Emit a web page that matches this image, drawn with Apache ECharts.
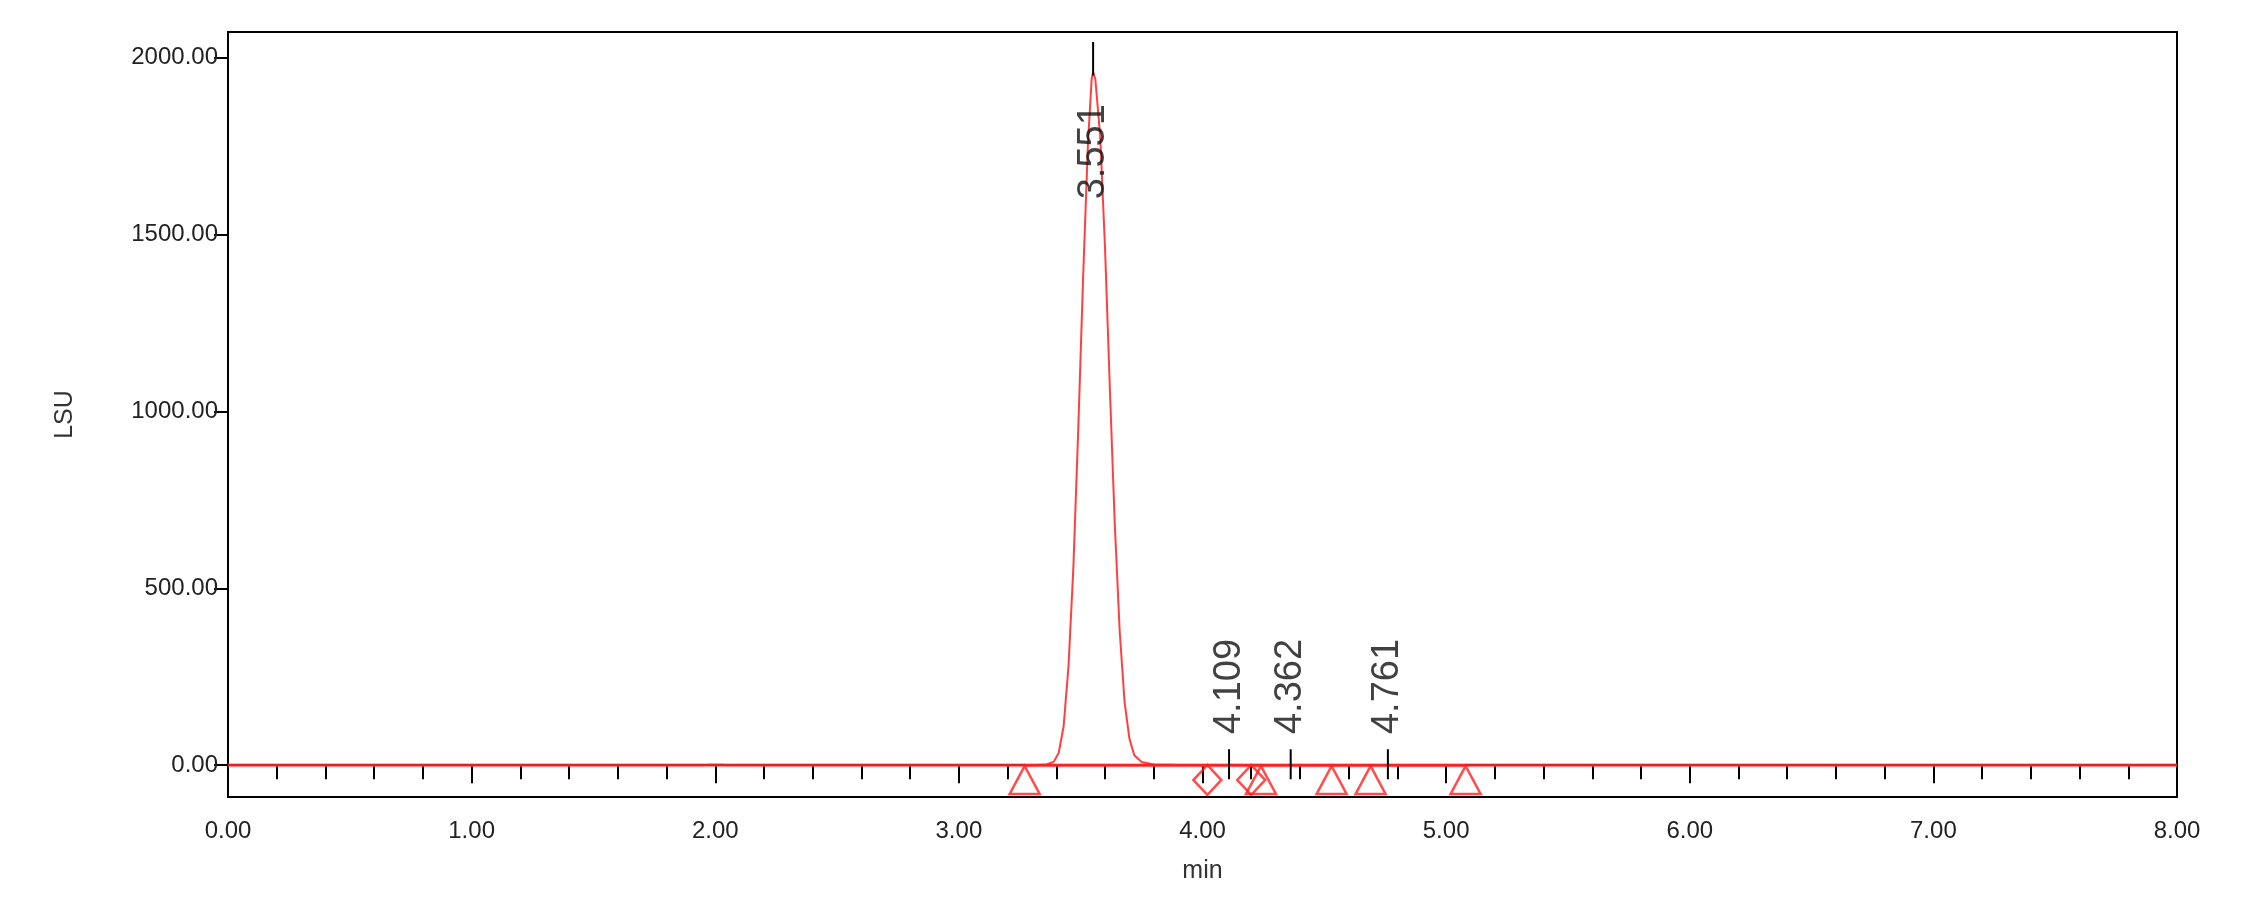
<!DOCTYPE html>
<html><head><meta charset="utf-8">
<script src="https://cdn.jsdelivr.net/npm/echarts@6/dist/echarts.min.js"></script>
<style>html,body{margin:0;padding:0;background:#fff}#c{width:2258px;height:920px}</style>
</head><body><div id="c"></div>
<script>
const signal = [[0,0],[1.95,0],[1.97,1.5],[2.03,1.5],[2.05,0],[3.30,0],[3.36,2],[3.39,10],[3.41,35],[3.43,110],[3.45,280],[3.47,560],[3.49,950],[3.51,1380],[3.53,1760],[3.545,1940],[3.551,1960],[3.56,1940],[3.58,1780],[3.60,1460],[3.62,1060],[3.64,680],[3.66,380],[3.68,180],[3.70,75],[3.72,28],[3.75,9],[3.80,2],[3.90,0.5],[4.2,0],[8,0]];
const baseline = [[3.27,0],[5.08,0]];
const triangles = [3.27,4.24,4.53,4.69,5.08];
const diamonds = [4.02,4.20];
const peaks = [{rt:3.551,lineTop:2045,lineBot:1950,textY:1600},{rt:4.109,lineTop:45,lineBot:-40,textY:88},{rt:4.362,lineTop:45,lineBot:-40,textY:88},{rt:4.761,lineTop:45,lineBot:-40,textY:88}];
const yTicks = [0,500,1000,1500,2000];
const xTicks = [0,1,2,3,4,5,6,7,8];
const markerY = -42;

const font = 'Liberation Sans, Arial, sans-serif';
const chart = echarts.init(document.getElementById('c'));
chart.setOption({
  animation:false,
  grid:{left:228,right:81,top:32,bottom:123,show:true,borderColor:'#000',borderWidth:2,backgroundColor:'#fff'},
  xAxis:{type:'value',min:0,max:8,interval:1,name:'min',nameLocation:'middle',nameGap:62,
    nameTextStyle:{fontFamily:font,fontSize:25,color:'#333'},
    axisLine:{show:true,lineStyle:{color:'#000',width:2}},
    axisTick:{show:true,length:18,lineStyle:{color:'#000',width:2}},
    minorTick:{show:true,splitNumber:5,length:14,lineStyle:{color:'#000',width:2}},
    splitLine:{show:false},
    axisLabel:{fontFamily:font,fontSize:24,color:'#222',margin:22,formatter:v=>v.toFixed(2)}},
  yAxis:{type:'value',min:-90,max:2073,interval:500,name:'LSU',nameLocation:'middle',nameGap:150,
    nameTextStyle:{fontFamily:font,fontSize:25,color:'#333'},
    axisLine:{show:true,onZero:false,lineStyle:{color:'#000',width:2}},
    axisTick:{show:true,length:14,lineStyle:{color:'#000',width:2},customValues:yTicks},
    minorTick:{show:false},
    splitLine:{show:false},
    axisLabel:{fontFamily:font,fontSize:24,color:'#222',margin:10,customValues:yTicks,formatter:v=>v.toFixed(2)}},
  series:[
    {type:'line',data:[[0,0],[8,0]],symbol:'none',lineStyle:{color:'rgba(255,80,80,0.55)',width:4},z:1},
    {type:'line',data:signal,symbol:'none',lineStyle:{color:'rgba(255,30,30,0.85)',width:2},z:2},
    {type:'line',data:baseline,symbol:'none',lineStyle:{color:'#ff2020',width:2.5},z:3},
    {type:'scatter',data:triangles.map(x=>[x,markerY]),symbol:'triangle',symbolSize:[30,28],
      itemStyle:{color:'rgba(0,0,0,0)',borderColor:'#ff2020',borderWidth:2.5},z:4},
    {type:'scatter',data:diamonds.map(x=>[x,markerY]),symbol:'diamond',symbolSize:[28,30],
      itemStyle:{color:'rgba(0,0,0,0)',borderColor:'#ff2020',borderWidth:2.5},z:4},
    {type:'line',symbol:'none',lineStyle:{color:'#000',width:2},z:5,
      data:peaks.flatMap(p=>[[p.rt,p.lineTop],[p.rt,p.lineBot],'-']),connectNulls:false},
    {type:'scatter',symbolSize:0,z:6,
      data:peaks.map(p=>({value:[p.rt,p.textY],name:p.rt.toFixed(3)})),
      label:{show:true,formatter:'{b}',rotate:90,position:'inside',align:'left',verticalAlign:'middle',
        fontFamily:font,fontSize:38,color:'#111'}}
  ]
});
</script></body></html>
